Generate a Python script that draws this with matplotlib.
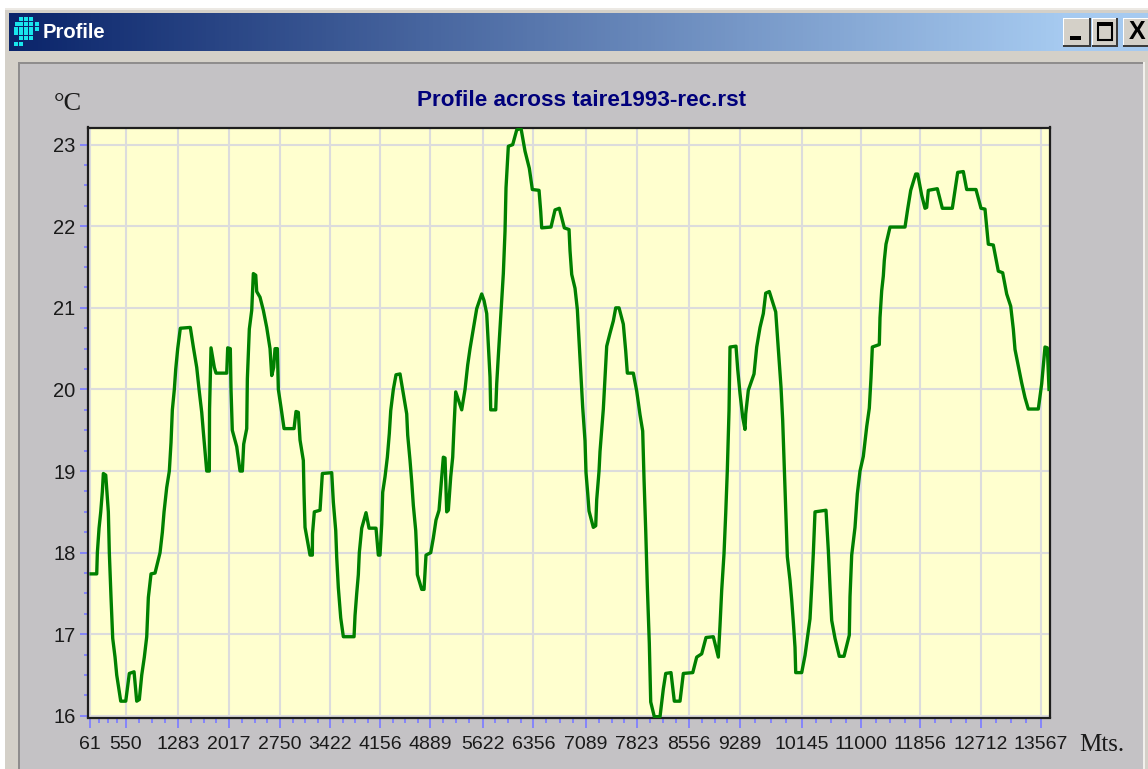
import matplotlib
matplotlib.use('Agg')
import matplotlib.pyplot as plt
from matplotlib.patches import Rectangle
from matplotlib.ticker import FixedLocator
import numpy as np

# distance along the profile (metres) and air temperature (deg C)
distance = [75, 156, 165, 189, 213, 236, 250, 284, 321, 335, 359, 383, 416, 440, 497, 568, 619, 686, 724, 761,
	795, 832, 866, 889, 927, 984, 1055, 1088, 1112, 1150, 1187, 1211, 1230, 1258, 1278, 1306, 1343, 1485, 1528, 1576,
	1613, 1647, 1670, 1718, 1755, 1758, 1779, 1826, 1850, 2002, 2016, 2053, 2063, 2081, 2144, 2191, 2224, 2243, 2286, 2295,
	2323, 2357, 2380, 2414, 2428, 2475, 2522, 2570, 2617, 2641, 2669, 2688, 2721, 2735, 2773, 2816, 2958, 2986, 3019, 3043,
	3090, 3100, 3114, 3185, 3218, 3220, 3246, 3327, 3360, 3493, 3516, 3550, 3564, 3587, 3621, 3658, 3810, 3824, 3848, 3871,
	3885, 3919, 3980, 4023, 4122, 4155, 4179, 4203, 4217, 4250, 4283, 4311, 4331, 4368, 4406, 4463, 4510, 4558, 4572, 4605,
	4629, 4652, 4686, 4700, 4709, 4771, 4804, 4832, 4899, 4936, 4974, 5017, 5055, 5078, 5102, 5126, 5149, 5183, 5211, 5230,
	5254, 5339, 5386, 5424, 5457, 5504, 5552, 5623, 5656, 5694, 5717, 5741, 5751, 5822, 5836, 5859, 5883, 5907, 5930, 5954,
	5968, 6001, 6063, 6120, 6181, 6238, 6299, 6342, 6437, 6461, 6475, 6607, 6664, 6725, 6796, 6863, 6877, 6901, 6948, 6981,
	7005, 7033, 7057, 7090, 7104, 7128, 7147, 7208, 7242, 7256, 7289, 7303, 7327, 7350, 7374, 7398, 7445, 7492, 7526, 7573,
	7634, 7668, 7691, 7776, 7824, 7871, 7909, 7928, 7952, 7975, 8003, 8023, 8074, 8155, 8202, 8236, 8311, 8358, 8439, 8486,
	8620, 8676, 8747, 8808, 8912, 8983, 9007, 9031, 9064, 9088, 9110, 9135, 9149, 9234, 9258, 9291, 9329, 9362, 9372, 9409,
	9490, 9528, 9575, 9622, 9656, 9707, 9798, 9835, 9873, 9897, 9916, 9940, 9963, 10001, 10025, 10048, 10072, 10082, 10167, 10214,
	10261, 10285, 10309, 10332, 10356, 10512, 10545, 10569, 10593, 10640, 10701, 10768, 10843, 10853, 10877, 10924, 10957, 10995, 11042, 11091,
	11127, 11151, 11170, 11269, 11279, 11303, 11326, 11340, 11364, 11421, 11634, 11672, 11715, 11786, 11814, 11871, 11918, 11942, 11965, 12093,
	12164, 12306, 12344, 12382, 12462, 12510, 12642, 12713, 12770, 12817, 12888, 12959, 13021, 13078, 13135, 13172, 13196, 13243, 13291, 13338,
	13385, 13527, 13575, 13622, 13655, 13679]
temperature = [17.74, 17.74, 18.0, 18.3, 18.5, 18.75, 18.97, 18.95, 18.5, 18.0, 17.45, 16.95, 16.72, 16.5, 16.18, 16.18, 16.52, 16.54, 16.18, 16.2,
	16.5, 16.72, 16.97, 17.45, 17.74, 17.75, 18.0, 18.25, 18.5, 18.8, 19.0, 19.35, 19.75, 20.0, 20.25, 20.5, 20.75, 20.76, 20.52, 20.27,
	19.97, 19.72, 19.48, 19.0, 19.0, 19.75, 20.51, 20.27, 20.2, 20.2, 20.51, 20.5, 20.0, 19.5, 19.3, 19.0, 19.0, 19.33, 19.52, 20.13,
	20.74, 20.97, 21.42, 21.4, 21.2, 21.13, 20.97, 20.76, 20.5, 20.17, 20.27, 20.5, 20.5, 20.0, 19.78, 19.52, 19.52, 19.73, 19.72, 19.38,
	19.13, 18.72, 18.31, 17.97, 17.97, 18.23, 18.5, 18.52, 18.97, 18.98, 18.62, 18.27, 17.94, 17.57, 17.2, 16.97, 16.97, 17.23, 17.5, 17.73,
	18.0, 18.3, 18.49, 18.3, 18.3, 17.97, 17.97, 18.35, 18.74, 18.93, 19.17, 19.46, 19.74, 20.0, 20.18, 20.19, 19.95, 19.7, 19.44, 19.13,
	18.87, 18.58, 18.27, 18.0, 17.73, 17.55, 17.55, 17.97, 18.0, 18.18, 18.4, 18.52, 18.93, 19.17, 19.16, 18.5, 18.52, 18.93, 19.17, 19.55,
	19.97, 19.75, 20.0, 20.3, 20.5, 20.74, 20.99, 21.17, 21.09, 20.93, 20.54, 20.15, 19.75, 19.75, 20.07, 20.41, 20.74, 21.09, 21.42, 21.94,
	22.47, 22.98, 23.0, 23.18, 23.2, 22.92, 22.71, 22.45, 22.44, 22.18, 21.98, 21.99, 22.2, 22.22, 21.98, 21.96, 21.7, 21.41, 21.24, 20.98,
	20.59, 20.16, 19.78, 19.37, 18.98, 18.73, 18.51, 18.31, 18.33, 18.65, 19.0, 19.24, 19.51, 19.76, 20.14, 20.53, 20.69, 20.84, 21.0, 21.0,
	20.8, 20.47, 20.2, 20.2, 19.98, 19.69, 19.49, 18.9, 18.27, 17.58, 16.89, 16.17, 15.99, 15.99, 16.33, 16.52, 16.53, 16.18, 16.18, 16.52,
	16.53, 16.72, 16.76, 16.96, 16.97, 16.72, 17.11, 17.54, 17.99, 18.48, 18.99, 19.74, 20.52, 20.53, 20.25, 19.95, 19.66, 19.51, 19.7, 19.99,
	20.19, 20.52, 20.76, 20.93, 21.18, 21.2, 20.95, 20.5, 20.03, 19.62, 19.15, 18.56, 17.95, 17.66, 17.42, 17.15, 16.84, 16.53, 16.53, 16.74,
	17.04, 17.19, 17.58, 17.99, 18.5, 18.52, 18.03, 17.58, 17.17, 16.95, 16.73, 16.73, 16.99, 17.46, 17.97, 18.31, 18.72, 19.0, 19.18, 19.55,
	19.77, 20.14, 20.52, 20.55, 20.88, 21.21, 21.39, 21.58, 21.78, 21.99, 21.99, 22.21, 22.44, 22.64, 22.64, 22.38, 22.22, 22.23, 22.44, 22.46,
	22.22, 22.22, 22.44, 22.66, 22.67, 22.45, 22.45, 22.22, 22.21, 21.78, 21.77, 21.45, 21.43, 21.17, 21.02, 20.74, 20.49, 20.29, 20.08, 19.9,
	19.76, 19.76, 20.07, 20.52, 20.51, 20.0]

x_labels = ['61', '550', '1283', '2017', '2750', '3422', '4156', '4889', '5622', '6356', '7089', '7823', '8556', '9289', '10145', '11000', '11856', '12712', '13567']
x_ticks = [61, 568, 1315, 2037, 2760, 3469, 4179, 4889, 5635, 6356, 7104, 7830, 8570, 9291, 10167, 11006, 11848, 12713, 13567]
y_ticks = [16, 17, 18, 19, 20, 21, 22, 23]

W, H = 1148, 769
fig = plt.figure(figsize=(W / 100, H / 100), dpi=100, facecolor='white')

# window chrome, in pixel coordinates
bg = fig.add_axes([0, 0, 1, 1])
bg.set_xlim(0, W)
bg.set_ylim(H, 0)
bg.axis('off')

def box(x0, y0, x1, y1, color, zorder=1):
	bg.add_patch(Rectangle((x0, y0), x1 - x0, y1 - y0, facecolor=color, edgecolor='none', zorder=zorder))

box(5, 8, W, H, '#d4d0c8')
box(5, 8, W, 10, '#ece9e4')
grad = np.array([[10, 36, 106], [166, 202, 240]]) / 255.0
ramp = np.linspace(0, 1, 256)[None, :, None]
box(1060, 13, W, 51, '#a6caf0', 2)
bg.imshow(grad[0] + (grad[1] - grad[0]) * ramp, extent=(9, 1062, 51, 13), aspect='auto', zorder=2)
bg.set_xlim(0, W)
bg.set_ylim(H, 0)
box(18, 62, 1143, H, '#8f8d8d', 3)
box(20, 64, 1143, H, '#c4c2c5', 3)
box(1143, 62, 1145, H, '#f2f0ec', 3)

# icon dots
icon_rows = {19: [21, 26, 31], 24: [17, 21, 26, 31, 37], 29: [16, 21, 26, 31, 37], 33: [16, 21, 26, 31], 38: [21, 26, 31], 44: [16, 21]}
for iy, xs in icon_rows.items():
	for ix in xs:
		box(ix - 2, iy - 2, ix + 2, iy + 2, '#19e6ec', 4)
bg.text(43, 33, 'Profile', color='white', fontsize=14.5, fontweight='bold', family='Liberation Sans', va='center', ha='left', zorder=4)

# title bar buttons
for x0, x1 in [(1063, 1091), (1092, 1118), (1123, 1150)]:
	box(x0, 18, x1, 47, '#3c3c3c', 4)
	box(x0, 18, x1 - 2, 45, '#ffffff', 5)
	box(x0 + 1, 19, x1 - 2, 45, '#d4d0c8', 6)
box(1070, 36, 1081, 40, 'black', 7)
bg.add_patch(Rectangle((1097.5, 23.5), 14, 16, facecolor='none', edgecolor='black', linewidth=1.5, zorder=7))
box(1097, 22, 1113, 26, 'black', 7)
bg.text(1137, 32, 'X', color='black', fontsize=18, fontweight='bold', family='Liberation Sans', va='center', ha='center', zorder=7)

# plot
left, right, top, bottom = 87.5, 1050, 127.5, 717.5
ax = fig.add_axes([left / W, 1 - bottom / H, (right - left) / W, (bottom - top) / H])
ax.set_facecolor('#ffffcf')
ax.plot(distance, temperature, color='#008000', linewidth=2.4, solid_joinstyle='round', zorder=3)
ax.set_xlim(25, 13693)
ax.set_ylim(15.98, 23.21)

ax.set_xticks(x_ticks)
ax.set_xticklabels(x_labels, fontsize=14, family='Liberation Sans', color='#1a1a1a')
ax.set_yticks(y_ticks)
ax.set_yticklabels([str(v) for v in y_ticks], fontsize=14.5, family='Liberation Sans', color='#1a1a1a')

minor_x = []
for a, b in zip(x_ticks[:-1], x_ticks[1:]):
	minor_x += list(np.linspace(a, b, 5)[1:-1])
ax.xaxis.set_minor_locator(FixedLocator(minor_x))
ax.yaxis.set_minor_locator(FixedLocator([v + d for v in y_ticks[:-1] for d in (0.25, 0.5, 0.75)]))

ax.grid(True, which='major', color='#dcdcdc', linewidth=1.5, zorder=1)
ax.set_axisbelow(True)
ax.tick_params(axis='x', which='major', color='#8080ff', length=7, width=1.3, pad=6)
ax.tick_params(axis='x', which='minor', color='#8080ff', length=3.5, width=1.3)
ax.tick_params(axis='y', which='major', color='#8080ff', length=5.5, width=1.3, pad=3)
ax.tick_params(axis='y', which='minor', color='#8080ff', length=3, width=1.3)
for s in ax.spines.values():
	s.set_color('#1e1e1e')
	s.set_linewidth(1.6)

bg.text(582, 100, 'Profile across taire1993-rec.rst', color='#00007b', fontsize=16.2, fontweight='bold', family='Liberation Sans', va='center', ha='center', zorder=7)
bg.text(68, 104, '°C', color='#1a1a1a', fontsize=19, family='Liberation Serif', va='center', ha='center', zorder=7)
bg.text(1102, 745, 'Mts.', color='#1a1a1a', fontsize=18, family='Liberation Serif', va='center', ha='center', zorder=7)

fig.savefig('out.png', dpi=100)
